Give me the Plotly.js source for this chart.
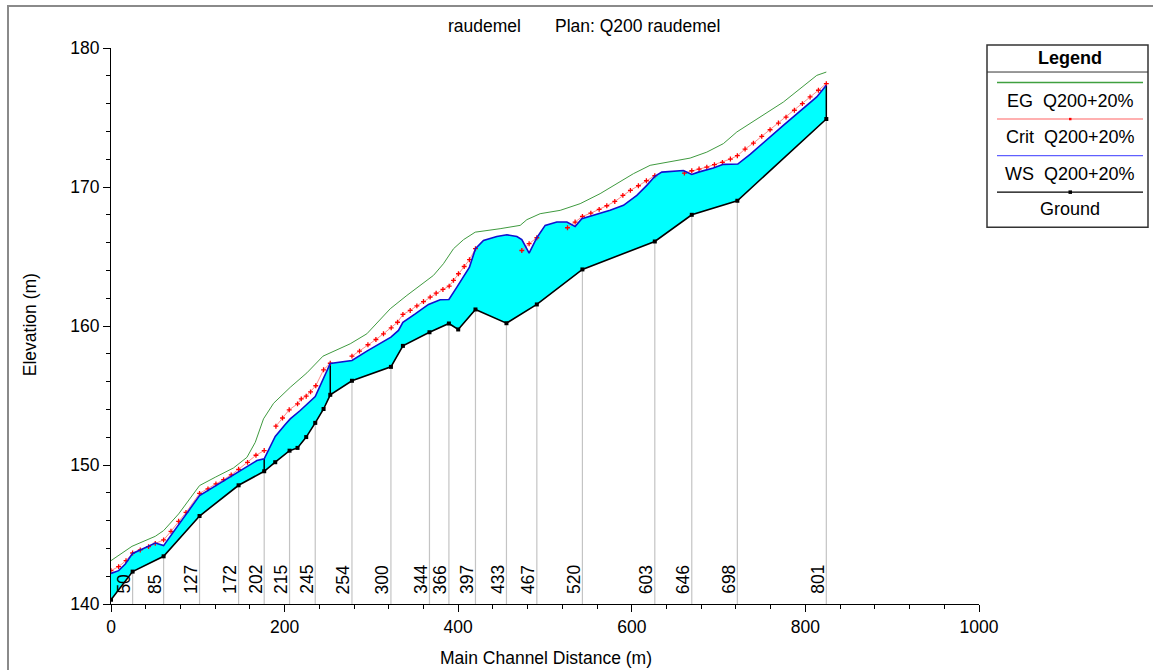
<!DOCTYPE html>
<html>
<head>
<meta charset="utf-8">
<script src="https://cdn.plot.ly/plotly-3.0.1.min.js"></script>
<style>
html,body{margin:0;padding:0;background:#fff;}
#wrap{position:relative;width:1153px;height:670px;overflow:hidden;}
#frame{position:absolute;left:7px;top:5px;width:1200px;height:800px;border-left:2px solid #8a8a8a;border-top:2px solid #8a8a8a;pointer-events:none;z-index:5;}
#plot{position:absolute;left:0;top:0;width:1153px;height:670px;}
</style>
</head>
<body>
<div id="wrap"><div id="plot"></div><div id="frame"></div></div>
<script>
// ---------------- DATA ----------------
const groundX = [0, 24.9, 60.6, 102.0, 147.0, 176.5, 189.2, 205.7, 214.9, 224.9, 235.3, 244.9, 252.6, 277.6, 322.5, 336.3, 366.9, 389.3, 400.0, 419.9, 455.6, 490.6, 543.1, 626.5, 669.1, 721.6, 824.1];
const groundY = [140.31, 142.33, 143.43, 146.33, 148.54, 149.55, 150.20, 151.03, 151.23, 152.01, 153.03, 154.03, 155.05, 156.06, 157.06, 158.57, 159.55, 160.18, 159.75, 161.19, 160.20, 161.55, 164.07, 166.08, 168.00, 169.01, 174.89];

const wsX = [0, 8.75, 16.5, 24.9, 33.7, 43.3, 51.0, 54.8, 60.6, 102.0, 147.0, 157.3, 168.1, 176.5, 189.2, 200.7, 206.5, 218.0, 235.3, 252.6, 277.6, 294.8, 322.5, 331.2, 336.3, 350.5, 365.8, 379.2, 389.3, 398.5, 413.0, 419.9, 429.1, 444.5, 456.1, 467.6, 473.3, 481.7, 490.6, 500.2, 513.6, 525.2, 534.7, 542.4, 563.5, 575.0, 590.4, 605.8, 617.3, 626.9, 634.6, 659.4, 669.1, 676.7, 694.0, 705.5, 722.1, 736.3, 774.6, 813.1, 824.1];
const wsY = [142.20, 142.40, 142.88, 143.64, 143.89, 144.15, 144.39, 144.32, 144.20, 147.80, 149.52, 149.91, 150.32, 150.44, 152.05, 152.91, 153.32, 153.92, 154.92, 157.30, 157.52, 158.19, 159.20, 159.68, 160.27, 160.87, 161.55, 161.89, 161.91, 162.80, 164.24, 165.56, 166.16, 166.44, 166.56, 166.44, 166.21, 165.24, 166.35, 167.24, 167.48, 167.48, 167.16, 167.72, 168.08, 168.32, 168.68, 169.40, 170.12, 170.79, 171.07, 171.19, 170.90, 171.07, 171.36, 171.63, 171.65, 172.35, 174.44, 176.48, 177.32];

const critX = [0, 8.75, 17.3, 24.9, 33.7, 43.3, 51.0, 60.6, 69.1, 77.9, 86.4, 102.0, 111.7, 120.9, 129.7, 138.5, 147.0, 157.3, 167.0, 176.5, null,
  190.0, 197.6, 205.3, 214.9, 219.2, 224.9, 229.9, 235.9, 244.9, 252.6, null,
  277.6, 286.3, 296.0, 305.2, 313.9, 322.8, 330.1, 336.3, 344.7, 352.4, 360.0, 367.7, 374.6, 382.4, 389.6, 394.6, 400.3, 406.9, 413.0, 419.9, null,
  473.3, 481.7, 490.6, null,
  525.9, 534.7, 543.1, 552.8, 562.4, 571.2, 580.4, 589.7, 598.4, 607.6, 616.8, 626.5, null,
  660.6, 669.1, 677.5, 686.4, 695.2, 704.4, 713.6, 721.6, 730.5, 740.1, 749.7, 759.3, 768.9, 777.7, 787.3, 796.5, 805.4, 815.0, 824.1];
const critY = [142.40, 142.69, 143.12, 143.67, 143.89, 144.13, 144.36, 144.61, 145.23, 145.95, 146.59, 147.96, 148.28, 148.64, 148.95, 149.29, 149.69, 150.19, 150.70, 151.04, null,
  152.79, 153.38, 153.97, 154.40, 154.76, 154.95, 155.26, 155.70, 156.85, 157.32, null,
  157.83, 158.19, 158.65, 159.03, 159.44, 159.87, 160.27, 160.83, 161.12, 161.45, 161.76, 162.08, 162.36, 162.63, 162.87, 163.28, 163.76, 164.28, 164.77, 165.56, null,
  165.43, 165.92, 166.35, null,
  167.07, 167.48, 167.88, 168.12, 168.39, 168.65, 168.96, 169.40, 169.76, 170.09, 170.45, 170.81, null,
  171.00, 171.17, 171.29, 171.43, 171.61, 171.77, 172.01, 172.25, 172.73, 173.16, 173.64, 174.12, 174.60, 175.03, 175.52, 176.00, 176.48, 176.96, 177.44];

const egX = [0, 24.2, 51.0, 60.6, 77.9, 102.0, 120.1, 141.2, 156.6, 166.2, 175.7, 187.3, 206.5, 225.7, 244.2, 256.4, 275.6, 294.8, 321.7, 340.9, 371.5, 383.0, 394.6, 406.1, 419.6, 448.3, 471.4, 479.1, 494.4, 517.5, 540.5, 563.5, 582.7, 601.9, 621.1, 636.4, 667.2, 686.4, 705.5, 721.0, 736.3, 774.6, 813.1, 824.1];
const egY = [143.12, 144.15, 144.87, 145.28, 146.48, 148.52, 149.12, 149.79, 150.55, 151.63, 153.32, 154.44, 155.59, 156.63, 157.83, 158.19, 158.72, 159.44, 161.24, 162.20, 163.64, 164.48, 165.56, 166.21, 166.75, 167.00, 167.24, 167.65, 168.08, 168.32, 168.80, 169.52, 170.24, 170.96, 171.56, 171.75, 172.08, 172.51, 173.12, 173.96, 174.56, 176.11, 178.03, 178.27];

const stationX = [24.9, 60.6, 102.0, 147.0, 176.5, 205.7, 235.3, 277.6, 322.5, 366.9, 389.3, 419.9, 455.6, 490.6, 543.1, 626.5, 669.1, 721.6, 824.1];
const stationLabels = ['50', '85', '127', '172', '202', '215', '245', '254', '300', '344', '366', '397', '433', '467', '520', '603', '646', '698', '801'];
const structureX = [176.5, 252.6, 824.1];

const legendNames = ['EG\u00a0\u00a0Q200+20%', 'Crit\u00a0\u00a0Q200+20%', 'WS\u00a0\u00a0Q200+20%', 'Ground'];
const titleText = 'raudemel\u00a0\u00a0\u00a0\u00a0\u00a0\u00a0\u00a0Plan: Q200 raudemel';
const xTitle = 'Main Channel Distance (m)';
const yTitle = 'Elevation (m)';

// ---------------- BUILD ----------------
const FONT = 'Liberation Sans, Arial, sans-serif';
const Y0 = 140;
function lookup(xs, ys, x) { const i = xs.indexOf(x); return ys[i]; }

const stLX = [], stLY = [];
stationX.forEach(x => { stLX.push(x, x, null); stLY.push(Y0, lookup(groundX, groundY, x), null); });

const strX = [], strY = [];
structureX.forEach(x => { strX.push(x, x, null); strY.push(lookup(groundX, groundY, x), lookup(wsX, wsY, x), null); });

const polyX = wsX.concat(groundX.slice().reverse());
const polyY = wsY.concat(groundY.slice().reverse());

const cEG = '#3f9a3f', cCritLine = '#ff8a8a', cCritMk = '#ff0000', cWS = '#1010d0', cG = '#000000';

const traces = [
  {x: stLX, y: stLY, mode: 'lines', line: {color: '#c4c4c4', width: 1.2}, hoverinfo: 'skip'},
  {x: polyX, y: polyY, mode: 'lines', fill: 'toself', fillcolor: '#00ffff', line: {width: 0}, hoverinfo: 'skip'},
  {x: strX, y: strY, mode: 'lines', line: {color: '#000', width: 1.5}, hoverinfo: 'skip'},
  {x: egX, y: egY, mode: 'lines', line: {color: cEG, width: 1}, name: legendNames[0]},
  {x: critX, y: critY, mode: 'lines+markers', connectgaps: false, line: {color: cCritLine, width: 1}, marker: {symbol: 'cross-thin-open', size: 3.5, color: cCritMk, line: {width: 1.3, color: cCritMk}}, name: legendNames[1]},
  {x: wsX, y: wsY, mode: 'lines', line: {color: cWS, width: 1.6}, name: legendNames[2]},
  {x: groundX, y: groundY, mode: 'lines+markers', line: {color: cG, width: 1.6}, marker: {symbol: 'square', size: 4, color: cG}, name: legendNames[3]}
];

// layout geometry
const W = 1153, H = 670, L = 111, T = 48, PW = 868, PH = 555.6;
const R = W - L - PW, B = H - T - PH;
const px = v => (v - L) / PW;
const py = v => 1 - (v - T) / PH;

const annotations = [];
stationX.forEach((x, i) => {
  annotations.push({x: x, y: Y0, xref: 'x', yref: 'y', text: stationLabels[i], showarrow: false,
    textangle: -90, xanchor: 'right', yanchor: 'bottom', xshift: 3, yshift: 8,
    font: {family: FONT, size: 17.5, color: '#000'}});
});
annotations.push({xref: 'paper', yref: 'paper', x: px(584), y: py(26), text: titleText, showarrow: false,
  xanchor: 'center', yanchor: 'middle', font: {family: FONT, size: 17.5, color: '#000'}});
annotations.push({xref: 'paper', yref: 'paper', x: px(546), y: py(658), text: xTitle, showarrow: false,
  xanchor: 'center', yanchor: 'middle', font: {family: FONT, size: 17.5, color: '#000'}});
annotations.push({xref: 'paper', yref: 'paper', x: px(30), y: py(325), text: yTitle, showarrow: false, textangle: -90,
  xanchor: 'center', yanchor: 'middle', font: {family: FONT, size: 17.5, color: '#000'}});

// custom legend (sample line above each name)
const shapes = [];
const lgL = 987, lgR = 1148, lgT = 45, lgB = 227;
shapes.push({type: 'rect', xref: 'paper', yref: 'paper', x0: px(lgL), x1: px(lgR), y0: py(lgB), y1: py(lgT), line: {color: '#333', width: 1.5}, fillcolor: 'rgba(0,0,0,0)', layer: 'above'});
shapes.push({type: 'line', xref: 'paper', yref: 'paper', x0: px(lgL), x1: px(lgR), y0: py(72), y1: py(72), line: {color: '#333', width: 1}});
annotations.push({xref: 'paper', yref: 'paper', x: px(1070), y: py(57.5), text: '<b>Legend</b>', showarrow: false, xanchor: 'center', yanchor: 'middle', font: {family: FONT, size: 18, color: '#000'}});
const lgLineY = [82.5, 119, 155.5, 192];
const lgTextY = [100.5, 137, 173.5, 209];
const lgColors = ['#40a040', '#ffb0b0', '#6060ff', '#000'];
lgLineY.forEach((yy, i) => {
  shapes.push({type: 'line', xref: 'paper', yref: 'paper', x0: px(997), x1: px(1143), y0: py(yy), y1: py(yy), line: {color: lgColors[i], width: i === 1 ? 2 : 1.3}});
  annotations.push({xref: 'paper', yref: 'paper', x: px(1070), y: py(lgTextY[i]), text: legendNames[i], showarrow: false, xanchor: 'center', yanchor: 'middle', font: {family: FONT, size: 18, color: '#000'}});
});
shapes.push({type: 'rect', xref: 'paper', yref: 'paper', x0: px(1069), x1: px(1071.5), y0: py(120.2), y1: py(117.8), line: {width: 0}, fillcolor: '#ff0000'});
shapes.push({type: 'rect', xref: 'paper', yref: 'paper', x0: px(1068.5), x1: px(1072), y0: py(193.8), y1: py(190.3), line: {width: 0}, fillcolor: '#000'});

const axisCommon = {
  showgrid: false, zeroline: false, showline: true, linecolor: '#000', linewidth: 1,
  ticks: 'outside', ticklen: 7, tickwidth: 1, tickcolor: '#000',
  tickfont: {family: FONT, size: 17.5, color: '#000'}, fixedrange: true
};
const layout = {
  width: W, height: H,
  margin: {l: L, r: R, t: T, b: B, pad: 0},
  paper_bgcolor: '#fff', plot_bgcolor: '#fff',
  showlegend: false,
  xaxis: Object.assign({}, axisCommon, {range: [0, 1000], tick0: 0, dtick: 200,
    minor: {dtick: 40, ticks: 'outside', ticklen: 4, tickcolor: '#000', tickwidth: 1, showgrid: false}}),
  yaxis: Object.assign({}, axisCommon, {range: [140, 180], tick0: 140, dtick: 10,
    minor: {dtick: 2, ticks: 'outside', ticklen: 4, tickcolor: '#000', tickwidth: 1, showgrid: false}}),
  annotations: annotations,
  shapes: shapes
};

Plotly.newPlot('plot', traces, layout, {staticPlot: true, displayModeBar: false});
</script>
</body>
</html>
